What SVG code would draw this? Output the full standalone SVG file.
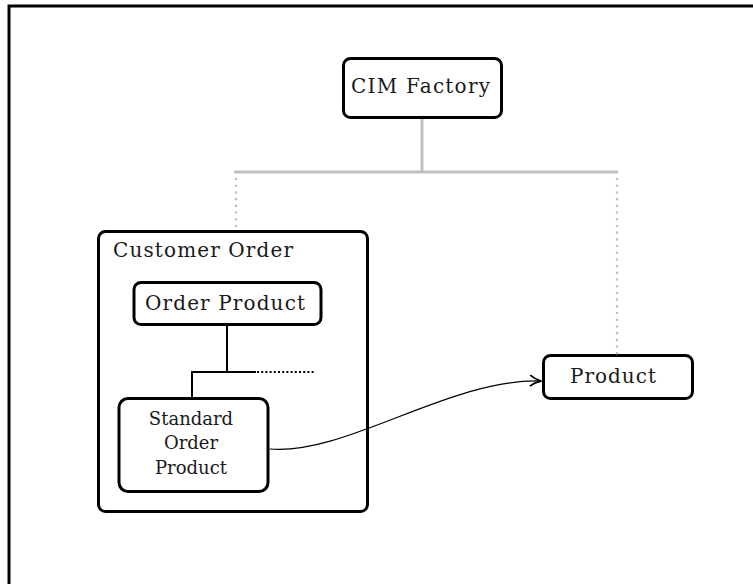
<svg xmlns="http://www.w3.org/2000/svg" width="753" height="584" viewBox="0 0 753 584">
  <style>
    .box { fill: #ffffff; stroke: #000000; stroke-width: 3; }
    .label { font-family: "DejaVu Serif", "Liberation Serif", serif; font-size: 20px; fill: #1a1a1a; }
    .inner { font-family: "DejaVu Serif", "Liberation Serif", serif; font-size: 18px; fill: #1a1a1a; text-anchor: middle; }
    .tree { fill: none; stroke: #c0c0c0; stroke-width: 3; }
    .dots { fill: none; stroke: #c0c0c0; stroke-width: 2.5; stroke-dasharray: 0.1 6.6; stroke-linecap: round; }
    .link { fill: none; stroke: #000000; stroke-width: 2; }
    .blackdots { fill: none; stroke: #000000; stroke-width: 2; stroke-dasharray: 2 2.2; }
  </style>
  <defs>
    <marker id="arrow" viewBox="0 0 14 14" refX="13" refY="7" markerWidth="14" markerHeight="14" markerUnits="userSpaceOnUse" orient="auto">
      <path d="M2,1.5 Q7,5.5 13,7 Q7,8.5 2,12.5" fill="none" stroke="#000000" stroke-width="1.8" stroke-linejoin="round"/>
    </marker>
  </defs>

  <!-- frame -->
  <path d="M9,584 V6 H753" fill="none" stroke="#000000" stroke-width="3"/>

  <g id="cim-factory">
    <rect class="box" x="343.5" y="58.5" width="158" height="59" rx="7"/>
    <text class="label" x="351" y="93" textLength="139" lengthAdjust="spacing">CIM Factory</text>
  </g>

  <g id="customer-order">
    <rect class="box" x="98.5" y="231.5" width="269" height="280" rx="7"/>
    <text class="label" x="113" y="257" textLength="180" lengthAdjust="spacing">Customer Order</text>
  </g>

  <g id="order-product">
    <rect class="box" x="134" y="282.5" width="187" height="42" rx="7"/>
    <text class="label" x="145" y="310" textLength="160" lengthAdjust="spacing">Order Product</text>
  </g>

  <g id="standard-order-product">
    <rect class="box" x="119" y="398.5" width="149" height="93" rx="9"/>
    <text class="inner" x="191" y="425">Standard</text>
    <text class="inner" x="191" y="449">Order</text>
    <text class="inner" x="191" y="474">Product</text>
  </g>

  <g id="product">
    <rect class="box" x="543.5" y="355.5" width="149" height="43" rx="7"/>
    <text class="label" x="570" y="383" textLength="86" lengthAdjust="spacing">Product</text>
  </g>

  <g id="connectors">
    <!-- hierarchy from CIM Factory -->
    <path class="tree" d="M422,119 V172 M234,172 H618"/>
    <path class="dots" d="M236,179 V230"/>
    <path class="dots" d="M617,179 V354"/>
    <!-- Order Product to Standard Order Product -->
    <path class="link" d="M227,326 V372 M192,397 V372 H256"/>
    <path class="blackdots" d="M257,372 H315"/>
    <!-- Standard Order Product to Product -->
    <path d="M269.5,449 C345,456 450,378 541,381" fill="none" stroke="#000000" stroke-width="1.2" marker-end="url(#arrow)"/>
  </g>
</svg>
